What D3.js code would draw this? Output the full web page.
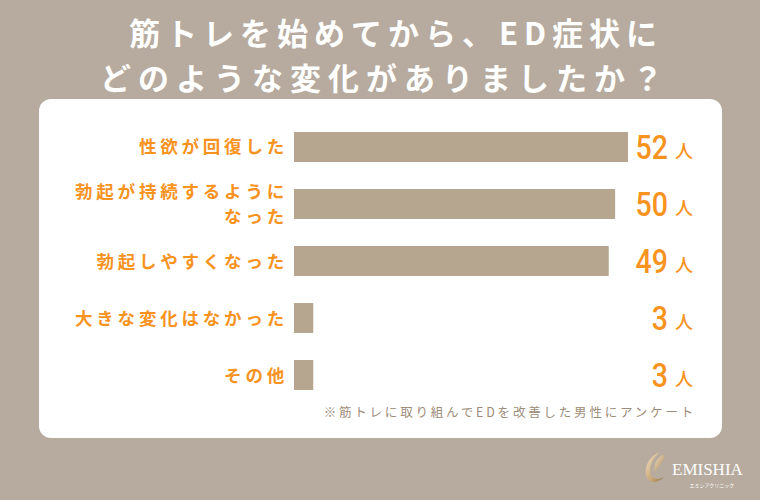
<!DOCTYPE html>
<html>
<head>
<meta charset="utf-8">
<script src="https://cdn.jsdelivr.net/npm/d3@7"></script>
<style>
  html, body { margin: 0; padding: 0; background: #b6ab9e; }
  svg { display: block; }
</style>
</head>
<body>
<div id="chart"></div>
<script>
// Survey data
const categories = ["性欲が回復した", "勃起が持続するように\nなった", "勃起しやすくなった", "大きな変化はなかった", "その他"]
const counts = [52, 50, 49, 3, 3]
const unit = "人"
const titleLines = ["筋トレを始めてから、ED症状に", "どのような変化がありましたか？"]
const note = "※筋トレに取り組んでEDを改善した男性にアンケート"

const W = 760, H = 500
const orange = "#f7931e"

const svg = d3.select("#chart").append("svg")
  .attr("width", W)
  .attr("height", H)

// background
svg.append("rect").attr("width", W).attr("height", H).attr("fill", "#b6ab9e")

// title
svg.append("g")
  .selectAll("text")
  .data(titleLines)
  .join("text")
  .attr("x", (d, i) => i === 0 ? 396 : 385)
  .attr("y", (d, i) => 45 + i * 45)
  .attr("text-anchor", "middle")
  .attr("fill", "#fff")
  .style("font-family", "'Noto Sans CJK JP', sans-serif")
  .style("font-weight", 700)
  .style("font-size", "31px")
  .style("letter-spacing", (d, i) => i === 0 ? "6px" : "7px")
  .text(d => d)

// white panel
svg.append("rect")
  .attr("x", 39).attr("y", 99)
  .attr("width", 683).attr("height", 339)
  .attr("rx", 12)
  .attr("fill", "#fff")

// scales
const x = d3.scaleLinear().domain([0, 52]).range([294, 628])
const y = d3.scaleBand()
  .domain(categories)
  .range([118.5, 403.5])
  .paddingInner(0.4737)
  .paddingOuter(0.2368)

// bars
svg.append("g")
  .selectAll("rect")
  .data(counts)
  .join("rect")
  .attr("x", x(0))
  .attr("y", (d, i) => y(categories[i]))
  .attr("width", d => x(d) - x(0))
  .attr("height", y.bandwidth())
  .attr("fill", "#b6a690")

// category labels (may wrap to two lines)
const labelG = svg.append("g")
  .attr("text-anchor", "end")
  .attr("fill", orange)
  .style("font-family", "'Noto Sans CJK JP', sans-serif")
  .style("font-weight", 700)
  .style("font-size", "17.5px")
  .style("letter-spacing", "3.8px")

categories.forEach(d => {
  const lines = d.split("\n")
  const cy = y(d) + y.bandwidth() / 2
  const lh = 25
  lines.forEach((l, i) => {
    labelG.append("text")
      .attr("x", 288)
      .attr("y", cy + 6.5 + (i - (lines.length - 1) / 2) * lh)
      .text(l)
  })
})

// value labels
const values = svg.append("g")
  .selectAll("g")
  .data(counts)
  .join("g")
  .attr("transform", (d, i) => `translate(0,${y(categories[i]) + y.bandwidth() / 2})`)

values.append("text")
  .attr("transform", "translate(668,12) scale(0.84,1)")
  .attr("text-anchor", "end")
  .attr("fill", orange)
  .style("font-family", "Roboto, sans-serif")
  .style("font-weight", 500)
  .style("font-size", "34px")
  .text(d => d)

values.append("text")
  .attr("x", 675)
  .attr("y", 11)
  .attr("fill", orange)
  .style("font-family", "'Noto Sans CJK JP', sans-serif")
  .style("font-weight", 500)
  .style("font-size", "18px")
  .text(unit)

// footnote
svg.append("text")
  .attr("x", 696)
  .attr("y", 417)
  .attr("text-anchor", "end")
  .attr("fill", "#9c8c7a")
  .style("font-family", "'Noto Sans CJK JP', sans-serif")
  .style("font-size", "12.5px")
  .style("letter-spacing", "2.8px")
  .text(note)

// logo
const defs = svg.append("defs")
const grad = defs.append("linearGradient")
  .attr("id", "gold")
  .attr("x1", "0").attr("y1", "0").attr("x2", "1").attr("y2", "1")
grad.append("stop").attr("offset", "0%").attr("stop-color", "#f3e2c4")
grad.append("stop").attr("offset", "60%").attr("stop-color", "#c9a878")
grad.append("stop").attr("offset", "100%").attr("stop-color", "#8f6d45")

const logo = svg.append("g").attr("transform", "translate(643,450)")
logo.append("path")
  .attr("d", "M17,2 C6,6 0,18 4,28 C7,34 15,33 21,27 C16,30 10,30 8,25 C5,17 10,8 17,2 Z")
  .attr("fill", "url(#gold)")
logo.append("path")
  .attr("d", "M19,5 C13,9 10,16 12,22 C16,16 20,11 22,6 C21,5 20,5 19,5 Z")
  .attr("fill", "url(#gold)")
  .attr("opacity", 0.85)

svg.append("text")
  .attr("x", 672).attr("y", 475)
  .attr("fill", "#fff")
  .style("font-family", "'Liberation Serif', 'DejaVu Serif', serif")
  .style("font-size", "17px")
  .text("EMISHIA")

svg.append("text")
  .attr("x", 712).attr("y", 487)
  .attr("text-anchor", "middle")
  .attr("fill", "#fff")
  .style("font-family", "'Noto Sans CJK JP', sans-serif")
  .style("font-size", "5px")
  .text("エミシアクリニック")
</script>
</body>
</html>
